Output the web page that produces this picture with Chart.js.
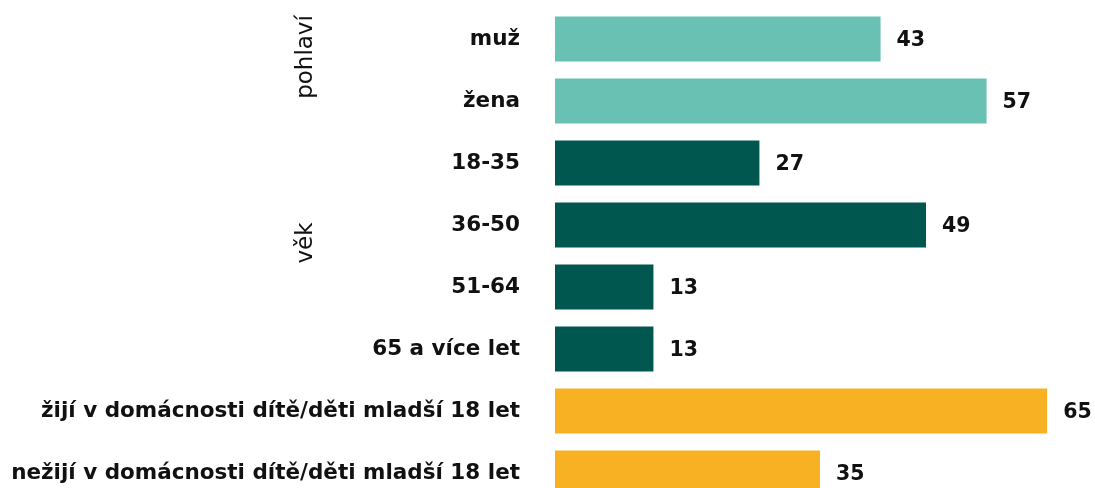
<!DOCTYPE html>
<html lang="cs">
<head>
    <meta charset="UTF-8">
    <title>Respondenti</title>
    <script src="https://cdn.jsdelivr.net/npm/chart.js"></script>
    <style>
        body {
            margin: 0;
            overflow: hidden;
            background: #fff;
            font-family: "DejaVu Sans", Verdana, sans-serif;
        }
        #wrap {
            width: 1095px;
            height: 512px;
        }
    </style>
</head>
<body>

<div id="wrap"><canvas id="chart"></canvas></div>

<script>
    // Data
    const categories = ['muž', 'žena', '18-35', '36-50', '51-64', '65 a více let',
        'žijí v domácnosti dítě/děti mladší 18 let', 'nežijí v domácnosti dítě/děti mladší 18 let'];
    const values = [43, 57, 27, 49, 13, 13, 65, 35];
    const groupOf = [0, 0, 1, 1, 1, 1, 2, 2];
    const groupNames = ['pohlaví', 'věk', ''];
    const groupColors = ['#69c1b4', '#005750', '#f8b123'];

    // value labels at bar ends + rotated group titles
    const labelsPlugin = {
        id: 'labels',
        afterDatasetsDraw(chart) {
            const ctx = chart.ctx;
            const meta = chart.getDatasetMeta(0);
            ctx.save();
            ctx.fillStyle = '#111';
            ctx.font = 'bold 20.5px "DejaVu Sans", Verdana, sans-serif';
            ctx.textAlign = 'left';
            ctx.textBaseline = 'middle';
            meta.data.forEach((bar, i) => {
                ctx.fillText(values[i], bar.x + 16, bar.y + 2);
            });

            const y = chart.scales.y;
            ctx.font = '23px "DejaVu Sans", Verdana, sans-serif';
            ctx.textAlign = 'center';
            groupNames.forEach((name, g) => {
                if (!name) return;
                const idx = groupOf.map((v, i) => v === g ? i : -1).filter(i => i >= 0);
                const mid = (y.getPixelForValue(idx[0]) + y.getPixelForValue(idx[idx.length - 1])) / 2 - 13;
                ctx.save();
                ctx.translate(306, mid);
                ctx.rotate(-Math.PI / 2);
                ctx.fillText(name, 0, 0);
                ctx.restore();
            });
            ctx.restore();
        }
    };

    new Chart(document.getElementById('chart'), {
        type: 'bar',
        data: {
            labels: categories,
            datasets: [{
                data: values,
                backgroundColor: groupOf.map(g => groupColors[g]),
                barPercentage: 0.726,
                categoryPercentage: 1
            }]
        },
        options: {
            indexAxis: 'y',
            responsive: true,
            maintainAspectRatio: false,
            animation: false,
            layout: { padding: { top: 8, bottom: 8, right: 10, left: 0 } },
            plugins: {
                legend: { display: false },
                tooltip: { enabled: false }
            },
            scales: {
                x: {
                    display: false,
                    min: 0,
                    max: 70
                },
                y: {
                    grid: { display: false, tickLength: 35 },
                    border: { display: false },
                    ticks: {
                        color: '#111',
                        padding: 0,
                        font: { family: '"DejaVu Sans", Verdana, sans-serif', size: 21.5, weight: 'bold' }
                    },
                    afterFit(scale) {
                        scale.width = 555;
                        scale.paddingTop = 0;
                        scale.paddingBottom = 0;
                    }
                }
            }
        },
        plugins: [labelsPlugin]
    });
</script>

</body>
</html>
